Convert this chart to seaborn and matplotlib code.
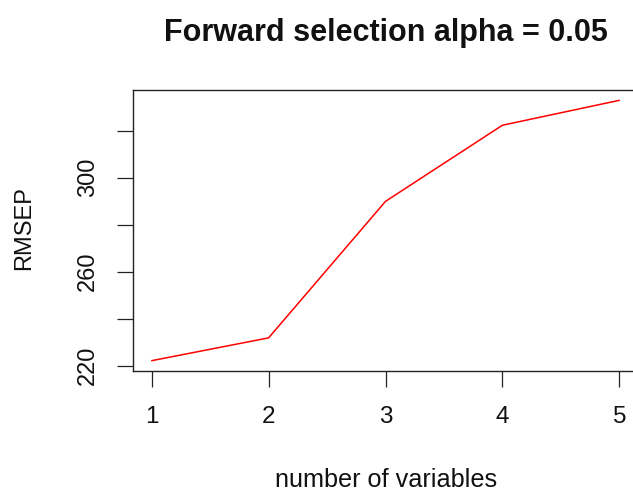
import matplotlib
matplotlib.use("Agg")
import matplotlib.pyplot as plt
import pandas as pd
import seaborn as sns

# Cross-validated error for each model size in the forward selection path
n_vars = [1, 2, 3, 4, 5]
rmsep = [222.1, 231.8, 289.9, 322.3, 332.9]

y_ticks = [220, 240, 260, 280, 300, 320]
y_tick_labels = ["220", "", "260", "", "300", ""]
x_ticks = [1, 2, 3, 4, 5]

sns.set_style("ticks")
plt.rcParams["font.family"] = ["Liberation Sans", "DejaVu Sans"]

df = pd.DataFrame({"n_vars": n_vars, "rmsep": rmsep})

fig = plt.figure(figsize=(6.33, 4.93), dpi=100)
ax = fig.add_axes([133 / 633, 1 - 371 / 493, 505 / 633, 281 / 493])

sns.lineplot(data=df, x="n_vars", y="rmsep", color="#ff0000", linewidth=1.1, ax=ax)

ax.set_xlim(0.84, 5.16)
ax.set_ylim(217.7, 337.3)

ax.set_xticks(x_ticks)
ax.set_xticklabels([str(v) for v in x_ticks])
ax.set_yticks(y_ticks)
ax.set_yticklabels(y_tick_labels, rotation=90, va="center")

ax.tick_params(axis="both", length=11.5, width=0.9, color="#222222",
               labelsize=17, labelcolor="#111111")
ax.tick_params(axis="x", pad=14, labelsize=17.5)
ax.tick_params(axis="y", pad=13)

for side in ["left", "bottom", "top"]:
    ax.spines[side].set_visible(True)
    ax.spines[side].set_color("#222222")
    ax.spines[side].set_linewidth(1.0)
ax.spines["right"].set_visible(False)

ax.set_xlabel("number of variables", fontsize=18.2, color="#111111", va="baseline")
ax.xaxis.set_label_coords(0.501, -(487 - 371) / 281)
ax.set_ylabel("RMSEP", fontsize=17, color="#111111", va="center")
ax.yaxis.set_label_coords((24 - 133) / 505, 0.509)

ax.set_title("Forward selection alpha = 0.05", fontsize=22, fontweight="bold",
             color="#111111", y=(371 - 40.7) / 281, pad=0)

fig.savefig("out.png", dpi=100)
